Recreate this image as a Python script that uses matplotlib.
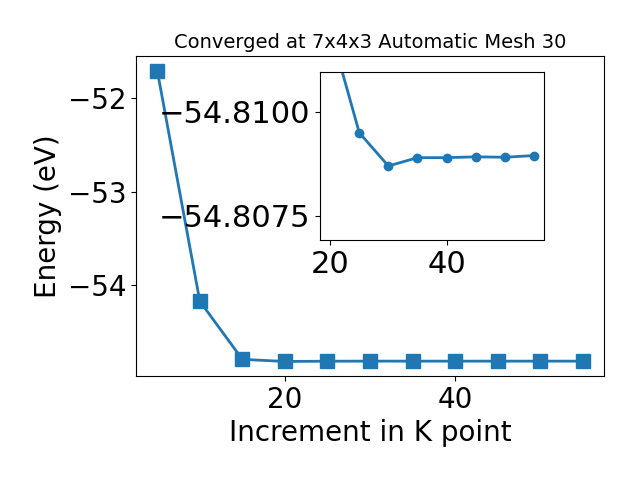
import matplotlib
matplotlib.use('Agg')
import matplotlib.pyplot as plt

# k-point increment vs total energy (eV)
kpoints = [5, 10, 15, 20, 25, 30, 35, 40, 45, 50, 55]
energy = [-51.71, -54.17, -54.79, -54.8120, -54.8095, -54.8087, -54.8089,
          -54.8089, -54.80892, -54.80891, -54.80895]

inset_k = kpoints[3:]
inset_e = energy[3:]

plt.rcParams['font.size'] = 20

fig = plt.figure(figsize=(6.4, 4.8), dpi=100)
ax = fig.add_axes([0.2125, 0.2167, 0.7313, 0.6666])
ax.plot(kpoints, energy, '-s', lw=2, markersize=10)
ax.set_xlabel('Increment in K point')
ax.set_ylabel('Energy (eV)')
ax.set_title('Converged at 7x4x3 Automatic Mesh 30', fontsize=14)

ins = fig.add_axes([0.5, 0.5, 0.35, 0.35])
ins.plot(inset_k, inset_e, '-o', lw=2, markersize=6)
ins.set_ylim(-54.80692, -54.81096)
ins.set_yticks([-54.8100, -54.8075])
ins.set_yticklabels(['\u221254.8100', '\u221254.8075'])
ins.tick_params(labelsize=22)

fig.savefig('out.png', dpi=100)
